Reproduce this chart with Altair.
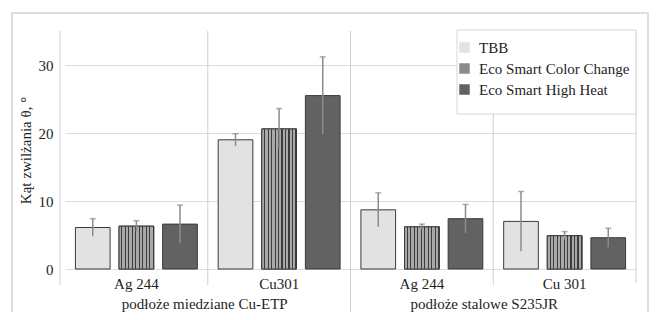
import altair as alt
import pandas as pd

FONT = "'Liberation Serif', 'Times New Roman', Times, serif"
TXT = "#1e1e1e"

# ---- data ----
categories = ["Ag 244", "Cu301", "Ag 244", "Cu 301"]
substrates = ["podłoże miedziane Cu-ETP", "podłoże miedziane Cu-ETP",
              "podłoże stalowe S235JR", "podłoże stalowe S235JR"]
series = ["TBB", "Eco Smart Color Change", "Eco Smart High Heat"]

tbb_values = [6.1, 19.0, 8.7, 7.0]
ecc_values = [6.3, 20.6, 6.2, 4.9]
eshh_values = [6.6, 25.5, 7.4, 4.6]

tbb_errors = [1.3, 0.9, 2.5, 4.4]
ecc_errors = [0.8, 3.0, 0.4, 0.6]
eshh_errors = [2.8, 5.7, 2.1, 1.4]

y_ticks = [0, 5, 10, 15, 20, 25, 30, 35]

# ---- tables built from the lists ----
cat_keys = [f"{i + 1}|{c}" for i, c in enumerate(categories)]
rows = []
for s, vals, errs in zip(series, [tbb_values, ecc_values, eshh_values],
                         [tbb_errors, ecc_errors, eshh_errors]):
    for k, sub, v, e in zip(cat_keys, substrates, vals, errs):
        rows.append({"key": k, "substrate": sub, "series": s, "value": v, "err": e})
df = pd.DataFrame(rows)
cat_df = pd.DataFrame({"key": cat_keys, "substrate": substrates})
one = pd.DataFrame({"a": [0]})

W, H = 576, 238

x_scale = alt.Scale(domain=cat_keys, range=[5, W], paddingInner=0, paddingOuter=0)
xoff_scale = alt.Scale(domain=series, paddingInner=0.2045, paddingOuter=0.2386)
y_scale = alt.Scale(domain=[0, 35], nice=False, zero=True)

x_axis = alt.Axis(title=None, labelExpr="split(datum.label, '|')[1]", labelFont=FONT,
                  labelFontSize=15, labelColor=TXT, labelPadding=7, ticks=False,
                  domain=False, grid=False, labelAngle=0)
y_axis = alt.Axis(title="Kąt zwilżania θ, °", values=y_ticks,
                  labelExpr="datum.value % 10 === 0 ? datum.label : ''",
                  grid=True, gridColor="#dcdcdc", gridWidth=1, domain=False, ticks=False,
                  labelFont=FONT, labelFontSize=15, labelColor=TXT, labelPadding=7,
                  titleFont=FONT, titleFontSize=15, titleFontWeight="normal", titleColor=TXT,
                  titleX=-35, titleY=H / 2, titleAngle=-90, titleAlign="center",
                  titleBaseline="middle")


def X(bp=None):
    kw = dict(scale=x_scale, axis=x_axis)
    if bp is not None:
        kw["bandPosition"] = bp
    return alt.X("key:N", **kw)


XO = alt.XOffset("series:N", scale=xoff_scale)
SEP = "#d0d0d0"

frame = alt.Chart(one).mark_rect(fillOpacity=0, stroke="#dedede", strokeWidth=2).encode(
    x=alt.value(-48), x2=alt.value(588), y=alt.value(-18), y2=alt.value(330))

left_edge = alt.Chart(one).mark_rule(color=SEP, strokeWidth=1).encode(
    x=alt.value(0), y=alt.value(0), y2=alt.value(254))
sep_inner = alt.Chart(cat_df).transform_filter(
    (alt.datum.key == cat_keys[1]) | (alt.datum.key == cat_keys[3])).mark_rule(
    color=SEP, strokeWidth=1).encode(x=X(0), y=alt.value(0), y2=alt.value(254))
sep_group = alt.Chart(cat_df).transform_filter(
    alt.datum.key == cat_keys[2]).mark_rule(color=SEP, strokeWidth=1).encode(
    x=X(0), y=alt.value(0), y2=alt.value(281))
sep_right = alt.Chart(cat_df).transform_filter(
    alt.datum.key == cat_keys[3]).mark_rule(color=SEP, strokeWidth=1).encode(
    x=X(1), y=alt.value(0), y2=alt.value(252))

bars = alt.Chart(df).mark_bar(stroke="#3a3a3a", strokeWidth=1).encode(
    x=X(),
    xOffset=XO,
    y=alt.Y("value:Q", scale=y_scale, axis=y_axis),
    color=alt.Color("series:N",
                    scale=alt.Scale(domain=series, range=["#e2e2e2", "#8a8a8a", "#626262"]),
                    legend=alt.Legend(title=None, orient="none", legendX=397, legendY=9,
                                      direction="vertical", symbolType="square",
                                      symbolSize=110, symbolStrokeWidth=0,
                                      labelFont=FONT, labelFontSize=15, labelColor=TXT,
                                      labelOffset=7, rowPadding=5, padding=0,
                                      labelLimit=300)),
)

# vertical stripes for "Eco Smart Color Change"
n_stripes = 10
stops = []
for i in range(n_stripes):
    a = i / n_stripes
    b = (i + 0.68) / n_stripes
    c = (i + 1) / n_stripes
    stops += [alt.GradientStop(offset=a, color="#a9a9a9"),
              alt.GradientStop(offset=b, color="#a9a9a9"),
              alt.GradientStop(offset=b, color="#3c3c3c"),
              alt.GradientStop(offset=c, color="#3c3c3c")]
stripes = alt.LinearGradient(gradient="linear", stops=stops, x1=0, x2=1, y1=0, y2=0)

ecc_bars = alt.Chart(df).transform_filter(
    alt.datum.series == series[1]).mark_bar(fill=stripes, stroke="#3a3a3a", strokeWidth=1).encode(
    x=X(), xOffset=XO, y=alt.Y("value:Q", scale=y_scale))

err = alt.Chart(df).transform_calculate(
    lo="datum.value - datum.err", hi="datum.value + datum.err")
err_rules = err.mark_rule(color="#8c8c8c", strokeWidth=1.5).encode(
    x=X(), xOffset=XO, y=alt.Y("lo:Q", scale=y_scale), y2="hi:Q")
err_caps = err.mark_tick(color="#8c8c8c", thickness=1.5, size=6).encode(
    x=X(), xOffset=XO, y=alt.Y("hi:Q", scale=y_scale))

legend_box = alt.Chart(one).mark_rect(fill="white", stroke="#d6d6d6", strokeWidth=1).encode(
    x=alt.value(397), x2=alt.value(576), y=alt.value(-1), y2=alt.value(83))

group_text_1 = alt.Chart(cat_df).transform_filter(
    alt.datum.key == cat_keys[0]).mark_text(
    font=FONT, fontSize=15, color=TXT, align="center", baseline="middle", dx=-3).encode(
    x=X(1), y=alt.value(273), text="substrate:N")
group_text_2 = alt.Chart(cat_df).transform_filter(
    alt.datum.key == cat_keys[2]).mark_text(
    font=FONT, fontSize=15, color=TXT, align="center", baseline="middle", dx=-9).encode(
    x=X(1), y=alt.value(273), text="substrate:N")

chart = alt.layer(
    frame, left_edge, sep_inner, sep_group, sep_right, bars, ecc_bars, err_rules, err_caps,
    legend_box, group_text_1, group_text_2
).properties(
    width=W, height=H,
    autosize=alt.AutoSizeParams(type="none"),
    padding={"left": 52, "top": 23, "right": 13, "bottom": 43},
).configure_view(strokeWidth=0)

chart.save("out.html", embed_options={"renderer": "svg", "actions": False})
